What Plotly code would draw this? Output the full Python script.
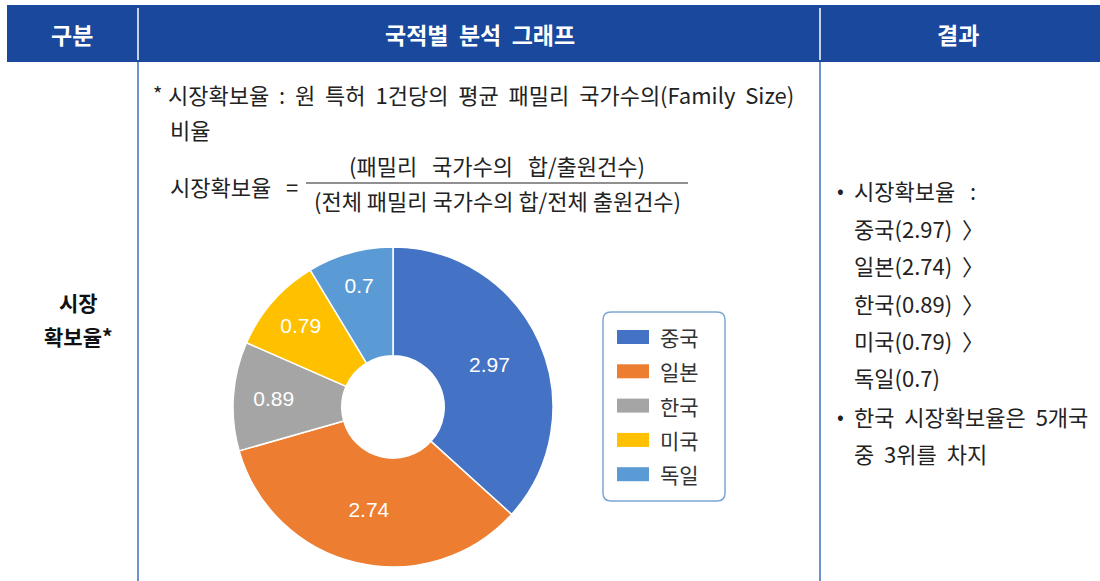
import plotly.graph_objects as go

# ---- data ----
countries = ["중국", "일본", "한국", "미국", "독일"]
values = [2.97, 2.74, 0.89, 0.79, 0.7]
colors = ["#4472C4", "#ED7D31", "#A5A5A5", "#FFC000", "#5B9BD5"]
headers = ["구분", "국적별 분석 그래프", "결과"]
row_label = ["시장", "확보율*"]

W, H = 1100, 581
FONT = "Noto Sans CJK KR"
NUMFONT = "Liberation Sans, Noto Sans CJK KR"
HEAD_BG = "#19489C"
LINE_BLUE = "#3F6FC0"
NB = "\u00a0"


def px(x):
    return x / W


def py(y):
    return 1 - y / H


def wide(s, n=1):
    return s.replace(" ", " " + NB * n)


fig = go.Figure()

fig.add_trace(go.Pie(
    labels=countries,
    values=values,
    sort=False,
    direction="clockwise",
    rotation=0,
    hole=0.32,
    marker=dict(colors=colors, line=dict(color="white", width=1.5)),
    textinfo="value",
    textposition="inside",
    insidetextorientation="horizontal",
    textfont=dict(family=NUMFONT, size=21, color="white"),
    domain=dict(x=[px(233), px(553)], y=[py(567), py(247)]),
    showlegend=False,
    hoverinfo="label+value",
))

shapes = []
annotations = []


def txt(text, x, y, size=21, color="#222222", anchor="left", family=FONT):
    annotations.append(dict(text=text, x=px(x), y=py(y), xref="paper", yref="paper",
                            showarrow=False, xanchor=anchor, yanchor="middle",
                            font=dict(family=family, size=size, color=color)))


# header bar
shapes.append(dict(type="rect", xref="paper", yref="paper",
                   x0=px(7), x1=px(1100), y0=py(62), y1=py(5),
                   fillcolor=HEAD_BG, line=dict(width=0), layer="below"))
for xd in [138, 820]:
    shapes.append(dict(type="line", xref="paper", yref="paper",
                       x0=px(xd), x1=px(xd), y0=py(60), y1=py(8),
                       line=dict(color="white", width=1.5)))
    shapes.append(dict(type="line", xref="paper", yref="paper",
                       x0=px(xd), x1=px(xd), y0=py(581), y1=py(62),
                       line=dict(color=LINE_BLUE, width=1.5)))

# header texts
for t, xc in zip(headers, [72, 480, 958]):
    txt(f"<b>{wide(t, 1)}</b>", xc, 34, size=23, color="white", anchor="center")

# left row label
for t, yc in zip(row_label, [302, 336]):
    txt(f"<b>{t}</b>", 78, yc, size=21, color="#111111", anchor="center")

TXT = "#222222"
# definition text
txt("*", 151, 93, size=20)
txt(wide("시장확보율 : 원 특허 1건당의 평균 패밀리 국가수의(Family Size)", 1), 166, 94, size=22)
txt("비율", 168, 129, size=22)
txt(wide("시장확보율 =", 2), 168, 186, size=22)
txt(wide("(패밀리 국가수의 합/출원건수)", 2), 497, 165, size=22, anchor="center")
txt(wide("(전체 패밀리 국가수의 합/전체 출원건수)", 0), 497, 200, size=22, anchor="center")
shapes.append(dict(type="line", xref="paper", yref="paper",
                   x0=px(306), x1=px(688), y0=py(183), y1=py(183),
                   line=dict(color=TXT, width=1.2)))

# legend (manual, from data arrays)
r = 8
shapes.append(dict(type="path", xref="paper", yref="paper",
                   path=("M {a},{b} L {c},{b} Q {d},{b} {d},{e} L {d},{f} Q {d},{g} {c},{g} "
                         "L {a},{g} Q {h},{g} {h},{f} L {h},{e} Q {h},{b} {a},{b} Z").format(
                       a=px(603 + r), c=px(725 - r), d=px(725), h=px(603),
                       b=py(312), e=py(312 + r), f=py(501 - r), g=py(501)),
                   line=dict(color="#7EA6D3", width=1.5), fillcolor="rgba(0,0,0,0)"))
for i, (c, col) in enumerate(zip(countries, colors)):
    yc = 337 + i * 34.3
    shapes.append(dict(type="rect", xref="paper", yref="paper",
                       x0=px(617), x1=px(649), y0=py(yc + 7), y1=py(yc - 7),
                       fillcolor=col, line=dict(width=0)))
    txt(c, 658, yc, size=21, color="#333333")

# results column
order = sorted(range(len(values)), key=lambda i: -values[i])
ranked = [f"{countries[i]}({values[i]:g})" for i in order]
kr_rank = order.index(countries.index("한국")) + 1
res_x = 852
txt("•", 835, 189, size=20)
txt("시장확보율" + NB * 3 + ":", res_x, 190, size=22)
for j, s in enumerate(ranked):
    line = s + (NB * 2 + "〉" if j < len(ranked) - 1 else "")
    txt(line, res_x, 228 + j * 37.3, size=22)
txt("•", 835, 415, size=20)
txt(wide(f"한국 시장확보율은 {len(countries)}개국", 1), res_x, 416, size=22)
txt(wide(f"중 {kr_rank}위를 차지", 1), res_x, 453, size=22)

fig.update_layout(
    width=W, height=H, autosize=False,
    margin=dict(l=0, r=0, t=0, b=0),
    paper_bgcolor="white", plot_bgcolor="white",
    shapes=shapes, annotations=annotations,
    font=dict(family=FONT),
    showlegend=False,
)

fig.write_html("out.html", config={"displayModeBar": False},
               post_script="document.body.style.margin='0';document.body.style.overflow='hidden';")
